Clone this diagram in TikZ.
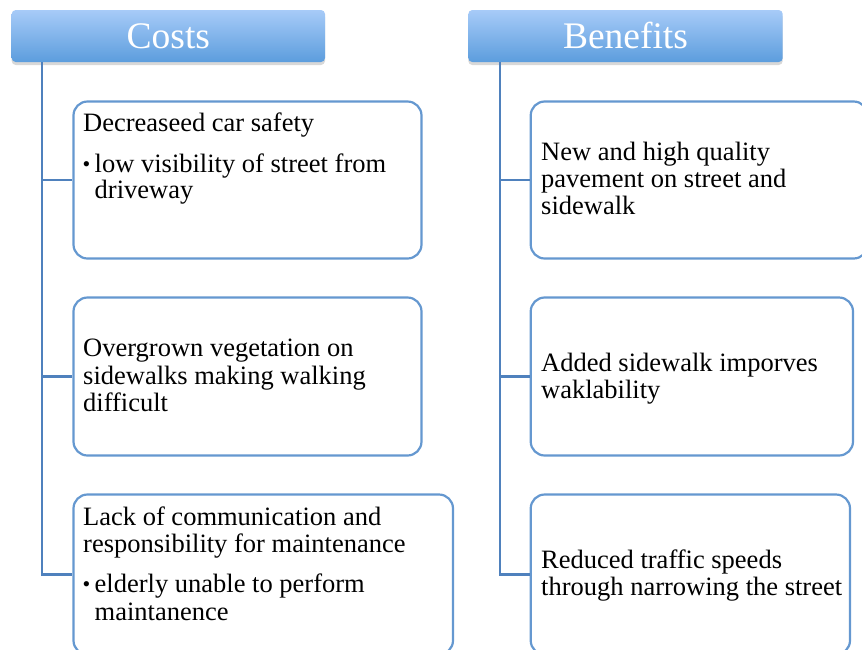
\documentclass[tikz,border=0pt]{standalone}
\usepackage{fontspec}
\setmainfont{Liberation Serif}
\usetikzlibrary{shadows}
\definecolor{spineblue}{RGB}{79,129,189}
\definecolor{boxblue}{RGB}{101,152,208}
\definecolor{headtop}{RGB}{167,203,248}
\definecolor{headbot}{RGB}{92,157,221}
\tikzset{
  header/.style={rounded corners=4pt, top color=headtop, bottom color=headbot,
    draw=none, text=white, inner sep=0pt, minimum height=52pt,
    text height=25pt, text depth=0pt,
    font=\fontsize{37.5}{41}\selectfont,
    drop shadow={shadow xshift=0pt, shadow yshift=-3pt, opacity=0.22, fill=black!70}},
  itembox/.style={draw=boxblue, line width=2.2pt, rounded corners=14pt, fill=white, inner sep=0pt},
  spine/.style={draw=spineblue, line width=2.2pt},
  txt/.style={anchor=base west, inner sep=0pt, font=\fontsize{26.5}{29}\selectfont},
  dot/.style={anchor=base west, inner sep=0pt, font=\fontsize{22}{29}\selectfont},
}
\begin{document}
\begin{tikzpicture}[x=1pt, y=-1pt]
\useasboundingbox (0,0) rectangle (862,649);

% column headers
\node[header, minimum width=313.3pt] (costs) at (168.35,36) {Costs};
\node[header, minimum width=314.4pt] (benefits) at (625.5,36) {Benefits};

% cost boxes
\node[itembox, minimum width=348pt, minimum height=157pt] (cb1) at (247.5,180) {};
\node[itembox, minimum width=348pt, minimum height=158pt] (cb2) at (247.5,376.5) {};
\node[itembox, minimum width=379.5pt, minimum height=160pt] (cb3) at (263.25,574.5) {};

% benefit boxes
\node[itembox, minimum width=337pt, minimum height=157pt] (bb1) at (699.2,180) {};
\node[itembox, minimum width=322.3pt, minimum height=158pt] (bb2) at (691.85,376.5) {};
\node[itembox, minimum width=319.3pt, minimum height=160pt] (bb3) at (690.35,574.5) {};

% tree connectors
\coordinate (cs) at (42,62);
\coordinate (bs) at (500,62);
\draw[spine] (cs) |- (cb3.west);
\draw[spine] (cs |- cb1.west) -- (cb1.west);
\draw[spine] (cs |- cb2.west) -- (cb2.west);
\draw[spine] (bs) |- (bb3.west);
\draw[spine] (bs |- bb1.west) -- (bb1.west);
\draw[spine] (bs |- bb2.west) -- (bb2.west);

% cost texts
\node[txt] (c1a) at (83,131.5) {Decreaseed car safety};
\node[dot] (c1d) at (82.5,171) {•};
\node[txt] (c1b) at (94.5,172) {low visibility of street from};
\node[txt] (c1c) at (94.5,198.5) {driveway};

\node[txt] (c2a) at (83,356.5) {Overgrown vegetation on};
\node[txt] (c2b) at (83,384) {sidewalks making walking};
\node[txt] (c2c) at (83,411.5) {difficult};

\node[txt] (c3a) at (83,525) {Lack of communication and};
\node[txt] (c3b) at (83,552) {responsibility for maintenance};
\node[dot] (c3d) at (82.5,591) {•};
\node[txt] (c3c) at (94.5,592) {elderly unable to perform};
\node[txt] (c3e) at (94.5,620) {maintanence};

% benefit texts
\node[txt] (b1a) at (541,160) {New and high quality};
\node[txt] (b1b) at (541,187) {pavement on street and};
\node[txt] (b1c) at (541,214) {sidewalk};

\node[txt] (b2a) at (541,371.5) {Added sidewalk imporves};
\node[txt] (b2b) at (541,398.5) {waklability};

\node[txt] (b3a) at (541,568) {Reduced traffic speeds};
\node[txt] (b3b) at (541,595) {through narrowing the street};
\end{tikzpicture}
\end{document}
